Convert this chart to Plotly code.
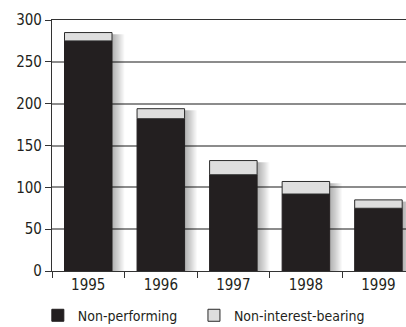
import plotly.graph_objects as go

# Loan volumes by year
years = ["1995", "1996", "1997", "1998", "1999"]
non_performing = [275, 182, 115, 92, 75]
non_interest_bearing = [10, 12, 17, 15, 10]
y_ticks = [0, 50, 100, 150, 200, 250, 300]

totals = [a + b for a, b in zip(non_performing, non_interest_bearing)]

FONT = "DejaVu Sans Condensed, Roboto, sans-serif"
INK = "#231f20"
LIGHT = "#dedede"
BAR_W = 0.655

fig = go.Figure()

# Soft drop shadow to the right of each bar: overlapping translucent strips
n_strips = 12
shadow_w = 0.17
for k in range(n_strips, 0, -1):
    fig.add_bar(
        x=years, y=[t - 2 for t in totals], base=0,
        width=shadow_w * k / n_strips, offset=BAR_W / 2,
        marker=dict(color="rgba(0,0,0,0.028)", line=dict(width=0)),
        showlegend=False, hoverinfo="skip",
    )

fig.add_bar(
    x=years, y=non_performing, name="Non-performing",
    width=BAR_W, legend="legend",
    marker=dict(color=INK, line=dict(color=INK, width=1)),
)
fig.add_bar(
    x=years, y=non_interest_bearing, base=non_performing,
    name="Non-interest-bearing", width=BAR_W, legend="legend2",
    marker=dict(color=LIGHT, line=dict(color="#2a2a2a", width=1)),
)

legend_style = dict(
    orientation="h", xanchor="left", y=-0.178, yanchor="middle",
    font=dict(family=FONT, size=14, color=INK),
    bgcolor="rgba(0,0,0,0)",
)

fig.update_layout(
    width=406, height=327,
    margin=dict(l=52, r=0, t=20, b=56, autoexpand=False),
    barmode="overlay",
    plot_bgcolor="white", paper_bgcolor="white",
    font=dict(family=FONT, size=15, color=INK),
    legend=dict(x=-0.04, **legend_style),
    legend2=dict(x=0.401, **legend_style),
)
fig.update_xaxes(
    type="category", range=[-0.5, 4.38],
    tickson="boundaries", ticks="outside", ticklen=6, tickcolor="#333",
    showline=True, linecolor="#333", linewidth=1.2, mirror=True,
    showgrid=False, tickfont=dict(size=15),
)
fig.update_yaxes(
    range=[0, 300], tickvals=y_ticks,
    ticks="outside", ticklen=6, tickcolor="#333",
    showline=True, linecolor="#333", linewidth=1.2,
    showgrid=True, gridcolor="#8c8c8c", gridwidth=1.5,
    zeroline=False, tickfont=dict(size=15),
)

fig.write_html("out.html")
